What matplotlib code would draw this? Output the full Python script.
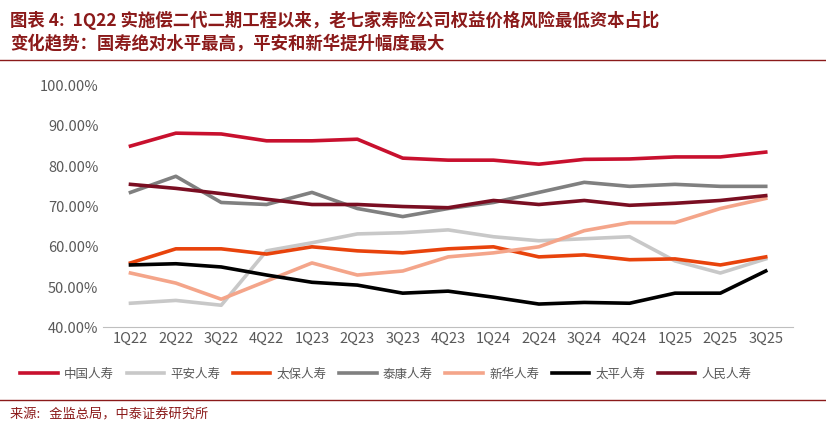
import matplotlib
matplotlib.use("Agg")
import matplotlib.pyplot as plt

plt.rcParams['font.family'] = ['Noto Sans CJK SC', 'DejaVu Sans']

quarters = ["1Q22","2Q22","3Q22","4Q22","1Q23","2Q23","3Q23","4Q23","1Q24","2Q24","3Q24","4Q24","1Q25","2Q25","3Q25"]
china_life = [85, 88.2, 88, 86.3, 86.3, 86.7, 82, 81.5, 81.5, 80.5, 81.7, 81.8, 82.3, 82.3, 83.5]
ping_an = [46, 46.7, 45.5, 59, 61, 63.2, 63.5, 64.2, 62.5, 61.5, 62, 62.5, 56.5, 53.5, 57]
cpic = [56, 59.5, 59.5, 58.2, 60, 59, 58.5, 59.5, 60, 57.5, 58, 56.8, 57, 55.5, 57.5]
taikang = [73.5, 77.5, 71, 70.5, 73.5, 69.5, 67.5, 69.5, 71, 73.5, 76, 75, 75.5, 75, 75]
nci = [53.5, 51, 47, 51.5, 56, 53, 54, 57.5, 58.5, 60, 64, 66, 66, 69.5, 72]
taiping = [55.5, 55.8, 55, 53, 51.2, 50.5, 48.5, 49, 47.5, 45.8, 46.2, 46, 48.5, 48.5, 54]
picc = [75.5, 74.5, 73.2, 71.8, 70.5, 70.5, 70, 69.7, 71.5, 70.5, 71.5, 70.3, 70.8, 71.5, 72.7]

series = [("中国人寿", china_life, "#C8102E"), ("平安人寿", ping_an, "#C8C8C8"),
          ("太保人寿", cpic, "#E8430C"), ("泰康人寿", taikang, "#808080"),
          ("新华人寿", nci, "#F4A58A"), ("太平人寿", taiping, "#000000"),
          ("人民人寿", picc, "#7A0E22")]

fig = plt.figure(figsize=(8.26, 4.28), dpi=100)
ax = fig.add_axes([0.125, 0.235, 0.835, 0.565])
x = range(len(quarters))
for name, vals, c in series:
    ax.plot(x, vals, color=c, lw=2.6, label=name)
ax.set_ylim(40, 100)
ax.set_yticks(range(40, 101, 10))
ax.set_yticklabels([f"{v:.2f}%" for v in range(40, 101, 10)], color="#595959", fontsize=10.5)
ax.set_xticks(list(x))
ax.set_xticklabels(quarters, color="#595959", fontsize=10.5)
ax.set_xlim(-0.6, 14.6)
for s in ["top", "right", "left"]:
    ax.spines[s].set_visible(False)
ax.spines["bottom"].set_color("#BFBFBF")
ax.tick_params(length=0)
ax.legend(loc="upper center", bbox_to_anchor=(0.41, -0.12), ncol=7, frameon=False,
          fontsize=9, handlelength=3.0, handletextpad=0.5, columnspacing=1.0, labelcolor="#595959")

fig.text(0.012, 0.975, "图表 4:  1Q22 实施偿二代二期工程以来，老七家寿险公司权益价格风险最低资本占比\n变化趋势：国寿绝对水平最高，平安和新华提升幅度最大",
         ha="left", va="top", fontsize=12.5, fontweight="bold", fontstyle="italic", color="#8B1A1A", linespacing=1.3)
fig.add_artist(plt.Line2D([0.0, 1.0], [0.86, 0.86], color="#8B1A1A", lw=1))
fig.add_artist(plt.Line2D([0.0, 1.0], [0.065, 0.065], color="#8B1A1A", lw=1))
fig.text(0.012, 0.03, "来源:   金监总局，中泰证券研究所", ha="left", va="center", fontsize=9.5, color="#8B1A1A")
fig.savefig("out.png", dpi=100)
